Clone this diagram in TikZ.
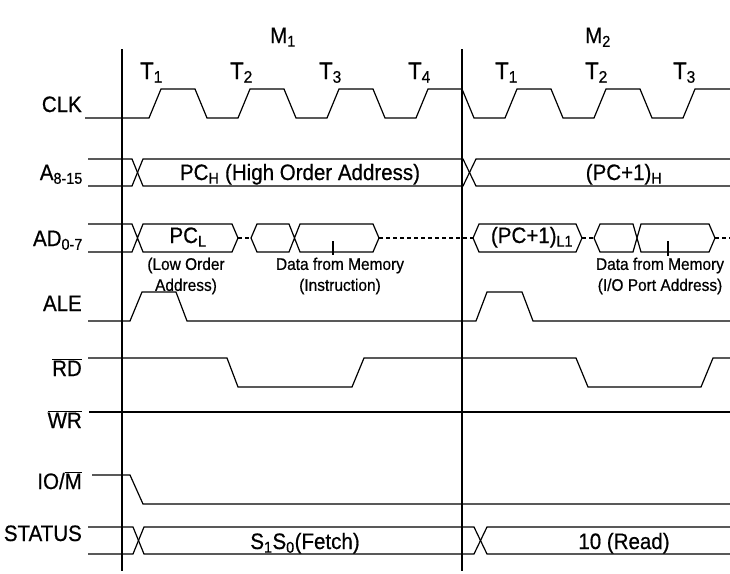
\documentclass[tikz,border=0pt]{standalone}
\usepackage{fontspec}
\setmainfont[FakeStretch=0.92,FakeBold=0.6]{Liberation Sans}
\usepackage{tikz}
\usetikzlibrary{positioning}

\begin{document}
\begin{tikzpicture}[x=1pt,y=-1pt,
  wave/.style={line width=1.2pt,line join=miter},
  gap/.style={line width=1.2pt,dash pattern=on 4pt off 3pt},
  big/.style={font=\fontsize{22.3}{25}\selectfont,inner sep=0pt},
  tlab/.style={font=\fontsize{24}{28}\selectfont,inner sep=0pt,anchor=base west},
  lab/.style={big,anchor=base east},
  bustext/.style={big,anchor=base},
  note/.style={font=\fontsize{16.8}{21}\selectfont,inner sep=0pt,align=center,anchor=north}]

\useasboundingbox (0,0) rectangle (730,573);

\draw[wave] (122,49) -- (122,571);
\draw[wave] (462,49) -- (462,571);

\node[big,anchor=base] (m1) at (283,43) {M\textsubscript{1}};
\node[big,anchor=base] (m2) at (598,43) {M\textsubscript{2}};

\node[tlab] (t1) at (140,79) {T\textsubscript{1}};
\node[tlab] (t2) at (230,79) {T\textsubscript{2}};
\node[tlab] (t3) at (319,79) {T\textsubscript{3}};
\node[tlab] (t4) at (408,79) {T\textsubscript{4}};
\node[tlab] (u1) at (495,79) {T\textsubscript{1}};
\node[tlab] (u2) at (585,79) {T\textsubscript{2}};
\node[tlab] (u3) at (673,79) {T\textsubscript{3}};

\node[lab] (clk) at (82,112) {CLK};
\node[lab] (addrhi) at (83,180) {A\textsubscript{8-15}};
\node[lab] (addrlo) at (83,246) {AD\textsubscript{0-7}};
\node[lab] (ale) at (82,311) {ALE};
\node[lab] (rd) at (82,376) {$\overline{\mbox{RD}}$};
\node[lab] (wr) at (82,428) {$\overline{\mbox{WR}}$};
\node[lab] (iom) at (82,489) {IO/$\overline{\mbox{M}}$};
\node[lab] (status) at (82,541) {STATUS};

\draw[wave] (85,118) -- (149,118) -- (161,89) -- (195,89) -- (207,118) -- (238,118) -- (250,89) -- (284,89) -- (296,118) -- (327,118) -- (339,89) -- (373,89) -- (385,118) -- (416,118) -- (428,89) -- (462,89) -- (474,118) -- (505,118) -- (517,89) -- (551,89) -- (563,118) -- (594,118) -- (606,89) -- (640,89) -- (652,118) -- (683,118) -- (695,89) -- (730,89);

\draw[wave] (88,159) -- (132,159) -- (143,186) -- (463,186) -- (476,159) -- (730,159);
\draw[wave] (88,186) -- (132,186) -- (143,159) -- (463,159) -- (476,186) -- (730,186);
\node[bustext] (pch) at (300,180) {PC\textsubscript{H} (High Order Address)};
\node[bustext] (pcnh) at (624,180) {(PC+1)\textsubscript{H}};

\draw[wave] (88,224) -- (132,224) -- (143,252) -- (232,252) -- (238,238) -- (232,224) -- (143,224) -- (132,252) -- (88,252);
\draw[gap] (238,238) -- (251,238);
\draw[wave] (251,238) -- (257,224) -- (289,224) -- (300,252) -- (373,252) -- (379,238) -- (373,224) -- (300,224) -- (289,252) -- (257,252) -- cycle;
\draw[gap] (379,238) -- (473,238);
\draw[wave] (473,238) -- (479,224) -- (576,224) -- (582,238) -- (576,252) -- (479,252) -- cycle;
\draw[gap] (582,238) -- (594,238);
\draw[wave] (594,238) -- (600,224) -- (633,224) -- (641,252) -- (709,252) -- (715,238) -- (709,224) -- (641,224) -- (633,252) -- (600,252) -- cycle;
\draw[gap] (715,238) -- (730,238);
\node[bustext] (pcl) at (188,243) {PC\textsubscript{L}};
\node[bustext] (pcnl) at (532,243) {(PC+1)\textsubscript{L1}};

\coordinate (tk1) at (333,255);
\coordinate (tk2) at (668,256);
\draw[wave] (333,241) -- (tk1);
\draw[wave] (668,241) -- (tk2);
\node[note] (loworder) at (186,257.5) {(Low Order\\Address)};
\node[note] (dfm1) at (340,257.5) {Data from Memory\\(Instruction)};
\node[note] (dfm2) at (660,257.5) {Data from Memory\\(I/O Port Address)};

\draw[wave] (88,321) -- (130,321) -- (142,292) -- (176,292) -- (187,321) -- (476,321) -- (487,292) -- (522,292) -- (533,321) -- (730,321);

\draw[wave] (88,358) -- (227,358) -- (238,387) -- (352,387) -- (364,358) -- (576,358) -- (588,387) -- (701,387) -- (713,358) -- (730,358);

\draw[wave] (89,412) -- (730,412);

\draw[wave] (92,475) -- (130,475) -- (143,504) -- (730,504);

\draw[wave] (88,527) -- (133,527) -- (144,554) -- (474,554) -- (487,527) -- (730,527);
\draw[wave] (88,554) -- (133,554) -- (144,527) -- (474,527) -- (487,554) -- (730,554);
\node[bustext] (fetch) at (305,549) {S\textsubscript{1}S\textsubscript{0}(Fetch)};
\node[bustext] (read) at (624,549) {10 (Read)};
\end{tikzpicture}
\end{document}
